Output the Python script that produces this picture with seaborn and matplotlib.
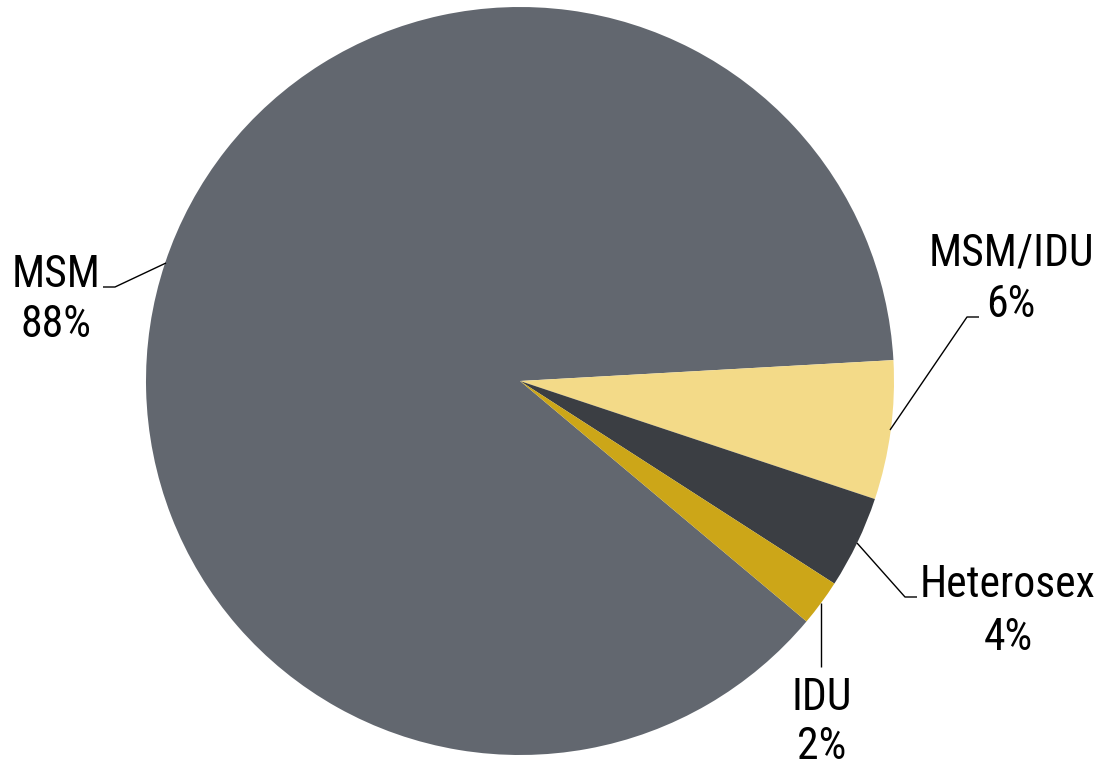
import matplotlib.pyplot as plt
import seaborn as sns

# data
groups = ["MSM", "MSM/IDU", "Heterosex", "IDU"]
shares = [88, 6, 4, 2]
colors = ["#62676f", "#f3da88", "#3b3e43", "#cca618"]

sns.set_theme(style="white")
plt.rcParams['font.family'] = ['Roboto Condensed', 'DejaVu Sans Condensed', 'Liberation Sans']

W, H = 1097, 765
fig = plt.figure(figsize=(W / 100, H / 100), dpi=100)
ax = fig.add_axes([0, 0, 1, 1])

ax.pie(shares, colors=colors, startangle=-40, counterclock=False,
       center=(520, H - 381), radius=374, wedgeprops=dict(linewidth=0))
ax.set_xlim(0, W)
ax.set_ylim(0, H)
ax.axis('off')

# leader lines (pixel positions, top origin) and label placement
leaders = [
    [(166, 263), (115, 287), (103, 287)],
    [(890, 430), (967, 317), (979, 317)],
    [(857, 543), (905, 597), (917, 597)],
    [(821, 603), (821, 667)],
]
label_pos = [(56, 287, 337), (1011, 265, 317), (1008, 597, 650), (822, 710, 759)]

for name, s, pts, (lx, y1, y2) in zip(groups, shares, leaders, label_pos):
    xs = [p[0] for p in pts]
    ys = [H - p[1] for p in pts]
    ax.plot(xs, ys, color="black", lw=1.0, solid_capstyle="butt")
    ax.text(lx, H - y1, name, ha="center", va="baseline", fontsize=31.5, color="black")
    ax.text(lx, H - y2, f"{s}%", ha="center", va="baseline", fontsize=31.5, color="black")

fig.savefig("out.png", dpi=100, facecolor="white")
